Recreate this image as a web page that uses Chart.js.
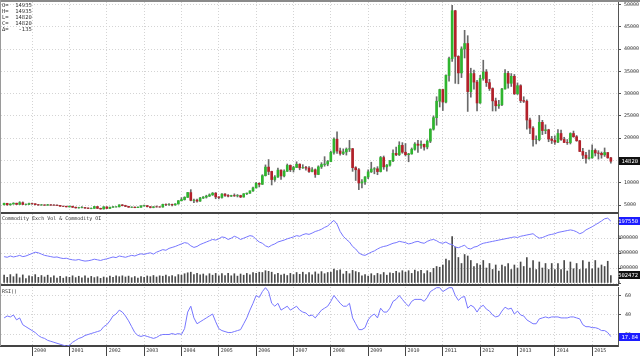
<!DOCTYPE html>
<html>
<head>
<meta charset="utf-8">
<script src="https://cdn.jsdelivr.net/npm/chart.js@4.4.1/dist/chart.umd.min.js"></script>
<style>
html, body { margin: 0; padding: 0; background: #fff; }
#wrap { position: relative; width: 640px; height: 358px; overflow: hidden; }
canvas { position: absolute; left: 0; }
.txt { position: absolute; font-family: "DejaVu Sans Mono", monospace; color: #333; white-space: pre; }
</style>
</head>
<body>
<div id="wrap">
  <canvas id="priceChart" style="top:0" width="640" height="214"></canvas>
  <canvas id="volChart" style="top:213px" width="640" height="73"></canvas>
  <canvas id="rsiChart" style="top:286px" width="640" height="72"></canvas>
  <div style="position:absolute;left:0;top:0;width:640px;height:2px;background:#8a8a8a"></div>
  <div style="position:absolute;left:0;top:0;width:1px;height:346px;background:#9a9a9a"></div>
  <div class="txt" style="left:2px;top:2px;font-size:5.5px;line-height:6px">O=  14935
H=  14935
L=  14820
C=  14820
Δ=   -135</div>
  <div class="txt" style="left:2px;top:215px;font-size:5px;line-height:6px">Commodity Exch Vol &amp; Commodity OI</div>
  <div class="txt" style="left:2px;top:288px;font-size:5px;line-height:6px">RSI()</div>
</div>
<script>
// monthly bars, April 1999 .. July 2015 (month 0 = Jan 1999)
const firstMonth = 3;

const opens = [
  5.05,5.37,5.04,5.23,5.40,5.14,5.52,5.13,5.14,
  5.33,5.28,5.07,5.00,5.03,4.96,5.05,4.98,4.97,4.91,4.73,4.71,
  4.59,4.72,4.50,4.36,4.41,4.43,4.32,4.23,4.25,4.64,4.25,4.12,
  4.58,4.23,4.50,4.57,4.60,5.02,4.87,4.69,4.50,4.53,4.42,4.51,
  4.79,4.84,4.62,4.45,4.59,4.58,4.55,5.13,5.11,5.12,5.01,5.24,
  5.96,6.21,6.72,7.79,6.04,6.09,5.88,6.56,6.78,6.99,7.28,7.66,
  6.82,6.70,7.45,7.14,6.99,7.11,7.05,7.12,6.80,7.52,7.66,8.17,
  8.83,9.86,9.65,11.58,13.51,12.53,10.71,11.28,12.83,11.53,12.58,13.89,
  12.90,13.43,14.15,13.35,13.41,13.29,12.52,12.90,11.86,13.56,14.09,14.19,
  14.76,16.80,19.78,17.12,16.57,16.91,17.53,17.64,13.38,12.91,9.94,10.19,
  11.29,12.44,13.07,13.13,12.50,15.65,13.56,13.95,14.92,16.60,16.28,18.38,
  16.85,16.30,16.47,17.51,18.67,18.40,18.63,18.03,19.33,22.02,24.60,28.30,
  30.91,28.11,34.07,37.87,48.60,38.35,34.64,40.02,41.24,30.45,34.50,32.59,
  27.90,33.40,34.85,32.46,31.14,28.37,27.27,27.52,31.04,34.54,32.32,33.88,
  29.95,31.78,28.44,28.29,24.08,22.26,19.69,19.69,23.56,21.71,21.88,19.81,
  19.49,19.13,21.05,19.70,19.03,19.01,21.05,20.32,19.42,17.02,16.18,15.49,
  15.58,17.25,16.67,16.60,16.26,16.77,15.59
];
const highs = [
  5.45,5.40,5.28,5.50,5.42,5.75,5.70,5.25,5.45,
  5.45,5.30,5.15,5.13,5.06,5.15,5.10,5.07,5.04,4.93,4.78,4.75,
  4.80,4.73,4.55,4.50,4.65,4.48,4.35,4.35,4.70,4.68,4.30,4.65,
  4.60,4.55,4.70,4.65,5.05,5.10,4.95,4.72,4.60,4.56,4.58,4.85,
  4.97,4.90,4.65,4.65,4.80,4.65,5.20,5.25,5.30,5.22,5.30,6.00,
  6.65,6.85,7.85,8.45,6.34,6.32,6.74,6.90,7.20,7.50,7.80,7.80,
  6.86,7.58,7.58,7.35,7.20,7.50,7.35,7.20,7.56,7.70,8.20,9.00,
  10.10,9.98,11.80,14.00,15.20,12.60,11.60,13.30,12.90,12.90,14.20,14.00,
  13.70,14.70,14.25,14.05,13.70,13.60,13.40,13.10,13.80,14.50,15.85,15.00,
  17.10,20.10,21.40,17.80,17.60,17.80,19.50,17.70,13.60,13.20,10.70,11.40,
  12.90,14.60,13.40,13.60,15.90,16.00,14.10,15.00,17.40,18.00,19.20,19.00,
  18.80,16.60,17.80,19.00,19.50,19.40,18.70,19.60,22.10,25.00,29.30,31.00,
  31.00,34.20,38.20,49.80,48.70,38.50,40.50,44.20,43.00,35.70,35.30,33.00,
  34.10,37.50,35.40,33.20,31.30,29.00,28.50,31.20,35.40,35.00,34.50,34.30,
  32.40,32.00,29.30,28.60,24.50,22.60,20.50,25.10,24.00,23.00,22.00,20.40,
  20.50,21.90,21.80,20.20,19.70,21.20,21.60,20.60,19.50,17.70,16.80,17.30,
  18.50,17.60,17.20,16.90,17.80,16.80,15.70
];
const lows = [
  5.02,4.95,4.97,5.18,5.10,5.12,5.08,5.00,5.08,
  5.13,5.01,4.92,4.93,4.90,4.93,4.90,4.88,4.85,4.70,4.62,4.55,
  4.52,4.43,4.30,4.28,4.35,4.22,4.20,4.15,4.24,4.20,4.05,4.08,
  4.20,4.22,4.45,4.52,4.55,4.80,4.62,4.48,4.42,4.38,4.40,4.48,
  4.72,4.55,4.35,4.37,4.50,4.48,4.50,4.85,4.90,4.80,4.95,5.20,
  5.90,6.10,6.68,5.93,5.50,5.66,5.82,6.45,6.55,6.90,7.15,6.40,
  6.38,6.55,6.90,6.80,6.90,6.93,6.80,6.66,6.76,7.34,7.60,8.07,
  8.82,9.05,9.60,11.50,11.80,9.50,10.30,11.20,10.75,11.30,12.50,12.50,
  12.40,13.40,12.90,13.20,12.80,12.30,12.45,11.20,11.80,13.20,13.70,13.80,
  14.70,16.40,16.60,16.20,16.30,16.20,17.00,12.55,10.50,8.45,8.85,9.60,
  10.90,12.30,12.00,11.80,12.40,13.00,12.60,13.70,14.70,16.05,16.10,16.60,
  16.00,14.70,16.40,17.30,16.80,17.70,17.30,17.60,19.00,21.80,22.90,27.00,
  26.20,27.90,32.80,37.20,32.30,32.20,33.60,38.00,26.00,29.20,31.00,26.10,
  27.80,33.00,31.60,30.70,26.10,26.10,26.70,27.30,31.00,31.20,31.60,29.80,
  29.80,28.00,28.00,22.00,21.00,18.20,18.70,19.40,20.80,21.00,19.20,18.80,
  18.60,19.00,19.50,19.00,18.60,18.70,20.20,19.30,17.00,15.40,14.40,15.30,
  15.50,16.00,15.30,15.50,15.90,15.50,14.40
];
const closes = [
  5.37,5.04,5.23,5.40,5.14,5.52,5.13,5.14,5.33,
  5.28,5.07,5.00,5.03,4.96,5.05,4.98,4.97,4.91,4.73,4.71,4.59,
  4.72,4.50,4.36,4.41,4.43,4.32,4.23,4.25,4.64,4.25,4.12,4.58,
  4.23,4.50,4.57,4.60,5.02,4.87,4.69,4.50,4.53,4.42,4.51,4.79,
  4.84,4.62,4.45,4.59,4.58,4.55,5.13,5.11,5.12,5.01,5.24,5.96,
  6.21,6.72,7.79,6.04,6.09,5.88,6.56,6.78,6.99,7.28,7.66,6.82,
  6.70,7.45,7.14,6.99,7.11,7.05,7.12,6.80,7.52,7.66,8.17,8.83,
  9.86,9.65,11.58,13.51,12.53,10.71,11.28,12.83,11.53,12.58,13.89,12.90,
  13.43,14.15,13.35,13.41,13.29,12.52,12.90,11.86,13.56,14.09,14.19,14.76,
  16.80,19.78,17.12,16.57,16.91,17.53,17.64,13.38,12.91,9.94,10.19,11.29,
  12.44,13.07,13.13,12.50,15.65,13.56,13.95,14.92,16.60,16.28,18.38,16.85,
  16.30,16.47,17.51,18.67,18.40,18.63,18.03,19.33,22.02,24.60,28.30,30.91,
  28.11,34.07,37.87,48.60,38.35,34.64,40.02,41.24,30.45,34.50,32.59,27.90,
  33.40,34.85,32.46,31.14,28.37,27.27,27.52,31.04,34.54,32.32,33.88,29.95,
  31.78,28.44,28.29,24.08,22.26,19.69,19.69,23.56,21.71,21.88,19.81,19.49,
  19.13,21.05,19.70,19.03,19.01,21.05,20.32,19.42,17.02,16.18,15.49,15.58,
  17.25,16.67,16.60,16.26,16.77,15.59,14.82
];
const volumes = [
  520e3,380e3,560e3,420e3,600e3,350e3,540e3,300e3,480e3,
  420e3,560e3,380e3,500e3,400e3,520e3,360e3,480e3,330e3,450e3,320e3,420e3,
  380e3,480e3,360e3,450e3,340e3,470e3,320e3,440e3,360e3,420e3,310e3,400e3,
  350e3,460e3,380e3,470e3,420e3,480e3,400e3,460e3,350e3,430e3,330e3,420e3,
  380e3,470e3,420e3,500e3,400e3,480e3,450e3,520e3,430e3,500e3,420e3,560e3,
  520e3,620e3,680e3,720e3,560e3,640e3,540e3,600e3,480e3,620e3,520e3,640e3,
  480e3,620e3,500e3,640e3,480e3,620e3,460e3,600e3,520e3,640e3,540e3,700e3,
  640e3,720e3,700e3,820e3,780e3,720e3,560e3,640e3,520e3,600e3,500e3,640e3,
  560e3,700e3,580e3,720e3,560e3,700e3,540e3,740e3,600e3,760e3,620e3,700e3,
  720e3,920e3,820e3,880e3,600e3,780e3,620e3,840e3,760e3,700e3,480e3,560e3,
  460e3,620e3,500e3,640e3,560e3,700e3,520e3,680e3,640e3,780e3,680e3,820e3,
  720e3,820e3,640e3,860e3,760e3,840e3,620e3,820e3,700e3,980e3,1100e3,1050e3,
  1200e3,1600e3,1500e3,3100e3,2400e3,1700e3,1300e3,1900e3,1800e3,1500e3,1100e3,1300e3,
  1200e3,1500e3,1000e3,1300e3,900e3,1200e3,800e3,1200e3,1100e3,1300e3,900e3,1200e3,
  1000e3,1400e3,1100e3,1700e3,1000e3,1500e3,900e3,1400e3,1000e3,1300e3,900e3,1300e3,
  900e3,1300e3,900e3,1500e3,800e3,1400e3,950e3,1300e3,900e3,1500e3,950e3,1400e3,
  950e3,1500e3,1000e3,1200e3,1100e3,1450e3,502472
];
const openInterest = [
  86e3,84e3,88e3,85e3,87e3,90e3,86e3,88e3,92e3,
  96e3,100e3,98e3,94e3,90e3,88e3,86e3,84e3,85e3,82e3,80e3,81e3,
  78e3,76e3,75e3,77e3,74e3,72e3,73e3,75e3,78e3,76e3,74e3,77e3,
  79e3,82e3,85e3,83e3,88e3,86e3,84e3,87e3,90e3,88e3,92e3,95e3,
  93e3,96e3,98e3,94e3,100e3,104e3,108e3,106e3,112e3,115e3,118e3,122e3,
  126e3,130e3,128e3,120e3,115e3,118e3,124e3,128e3,132e3,136e3,140e3,138e3,
  142e3,148e3,146e3,140e3,144e3,150e3,146e3,140e3,144e3,148e3,152e3,150e3,
  140e3,132e3,128e3,120e3,116e3,122e3,126e3,132e3,135e3,138e3,142e3,145e3,
  148e3,152e3,150e3,155e3,158e3,156e3,160e3,165e3,168e3,172e3,178e3,182e3,
  192e3,200e3,188e3,165e3,150e3,140e3,132e3,118e3,110e3,98e3,92e3,90e3,
  95e3,100e3,104e3,110e3,115e3,118e3,120e3,124e3,128e3,130e3,134e3,132e3,
  130e3,126e3,128e3,132e3,134e3,130e3,128e3,134e3,138e3,140e3,136e3,130e3,
  128e3,132e3,126e3,124e3,116e3,114e3,118e3,122e3,112e3,110e3,116e3,118e3,
  124e3,128e3,130e3,132e3,134e3,136e3,138e3,140e3,142e3,144e3,146e3,148e3,
  146e3,150e3,152e3,154e3,156e3,158e3,150e3,144e3,146e3,150e3,154e3,156e3,
  158e3,162e3,164e3,166e3,168e3,170e3,168e3,164e3,158e3,162e3,170e3,175e3,
  180e3,186e3,192e3,198e3,205e3,207e3,197550
];
const rsi = [
  37,39,38,40,35,37,30,28,26,
  24,22,19,17,16,14,13,12,11,10,9,8,
  9,12,14,16,17,19,20,21,22,23,24,28,
  30,34,39,41,45,43,39,34,28,22,19,18,
  19,18,17,16,17,19,20,20,20,21,20,21,
  20,26,43,49,37,31,33,35,37,39,41,33,
  26,24,23,22,22,23,24,25,31,37,45,52,
  60,58,64,68,64,52,49,52,45,47,49,45,
  47,49,45,43,42,39,40,37,41,45,47,49,
  54,60,56,52,49,49,52,37,31,25,25,27,
  35,39,41,37,47,43,43,47,54,56,60,56,
  52,49,54,56,56,56,54,58,64,66,68,68,
  64,66,68,68,60,55,58,59,47,50,48,43,
  48,50,46,44,40,38,39,44,48,46,47,41,
  44,40,39,35,33,31,31,36,37,38,37,38,
  38,38,37,37,37,38,38,37,36,30,28,28,
  27,27,26,24,24,22,17.84
];

const yearTicks = [12,24,36,48,60,72,84,96,108,120,132,144,156,168,180,192];
const yearLabels = ['2000','2001','2002','2003','2004','2005','2006','2007','2008','2009','2010','2011','2012','2013','2014','2015'];
const priceTicks = [5,10,15,20,25,30,35,40,45,50];
const volumeTicks = [0,1000000,2000000,3000000,4000000];
const rsiTicks = [20,40,60];

const UP = '#2fb52f';
const DOWN = '#b3202a';
const WICK = '#6a6a6a';
const LINE_BLUE = '#7676ff';
const FONT = {family: 'DejaVu Sans Mono', size: 5};

const xs = closes.map((c, i) => firstMonth + i);

// draws the black / blue last-value boxes on the right axis
const lastBoxes = {
  id: 'lastBoxes',
  afterDraw(chart, args, opts) {
    const ctx = chart.ctx;
    (opts.items || []).forEach(b => {
      const y = chart.scales[b.axis].getPixelForValue(b.value);
      ctx.save();
      ctx.fillStyle = b.bg;
      ctx.fillRect(chart.chartArea.right + 1, Math.round(y) - 4, chart.width - chart.chartArea.right - 1, 8);
      ctx.fillStyle = '#fff';
      ctx.font = '5.5px "DejaVu Sans Mono"';
      ctx.textBaseline = 'middle';
      ctx.textAlign = 'right';
      ctx.fillText(b.text, chart.width - 2, Math.round(y) + 0.5);
      ctx.restore();
    });
  }
};

function xAxis(bottom) {
  return {
    type: 'linear', min: 2, max: 200.3, offset: false,
    afterBuildTicks: s => { s.ticks = yearTicks.map(v => ({value: v})); },
    afterFit: s => { s.height = bottom ? 12 : 0; s.paddingLeft = 0; s.paddingRight = 0; },
    ticks: {
      display: bottom, autoSkip: false, maxRotation: 0, align: 'start',
      labelOffset: 2, padding: -8, font: FONT, color: '#333',
      callback: (v, i) => yearLabels[i]
    },
    grid: {color: '#d4d4d4', offset: false, drawTicks: bottom, tickLength: 10, tickColor: '#444'},
    border: {color: '#444', width: 2, dash: [1, 2]}
  };
}

function rightAxis(min, max, ticks, label, pad) {
  return {
    position: 'right', min, max,
    afterBuildTicks: s => { s.ticks = ticks.map(v => ({value: v})); },
    afterFit: s => { s.width = 22; s.paddingTop = 0; s.paddingBottom = 0; },
    ticks: {font: FONT, color: '#333', padding: pad, autoSkip: false, callback: label},
    grid: {color: '#d4d4d4', tickColor: '#555', tickLength: 3},
    border: {color: '#555', width: 1, dash: [1, 2]}
  };
}

// Price Chart
const priceChart = new Chart(document.getElementById('priceChart'), {
  type: 'bar',
  data: {
    datasets: [{
      data: closes.map((c, i) => ({x: xs[i], y: [lows[i], highs[i]]})),
      backgroundColor: WICK,
      barThickness: 1,
      grouped: false,
      order: 2
    }, {
      data: closes.map((c, i) => ({x: xs[i], y: [opens[i], c]})),
      backgroundColor: closes.map((c, i) => c >= opens[i] ? UP : DOWN),
      barThickness: 2,
      grouped: false,
      order: 1
    }]
  },
  options: {
    responsive: false, animation: false,
    layout: {padding: {top: 2, left: 1, right: 0, bottom: 1}},
    plugins: {
      legend: {display: false}, tooltip: {enabled: false},
      lastBoxes: {items: [{axis: 'y', value: closes[closes.length - 1], text: '14820', bg: '#111'}]}
    },
    scales: {
      x: xAxis(false),
      y: rightAxis(3.205, 50.56, priceTicks, v => String(Math.round(v * 1000)), 3)
    }
  },
  plugins: [lastBoxes]
});

// Volume + Open Interest
const volChart = new Chart(document.getElementById('volChart'), {
  type: 'bar',
  data: {
    datasets: [{
      type: 'line',
      data: openInterest.map((v, i) => ({x: xs[i], y: v})),
      yAxisID: 'oi',
      borderColor: LINE_BLUE,
      borderWidth: 1,
      pointRadius: 0,
      tension: 0
    }, {
      data: volumes.map((v, i) => ({x: xs[i], y: v})),
      yAxisID: 'y',
      backgroundColor: '#4a4a4a',
      barThickness: 1
    }]
  },
  options: {
    responsive: false, animation: false,
    layout: {padding: {top: 1, left: 1, right: 0, bottom: 1}},
    plugins: {
      legend: {display: false}, tooltip: {enabled: false},
      lastBoxes: {items: [
        {axis: 'oi', value: openInterest[openInterest.length - 1], text: '197550', bg: '#1c1cff'},
        {axis: 'y', value: volumes[volumes.length - 1], text: '502472', bg: '#111'}
      ]}
    },
    scales: {
      x: xAxis(false),
      y: rightAxis(-133333, 4600000, volumeTicks, v => String(v), -4),
      oi: {display: false, min: -3143, max: 220000}
    }
  },
  plugins: [lastBoxes]
});

// RSI
const rsiChart = new Chart(document.getElementById('rsiChart'), {
  type: 'line',
  data: {
    datasets: [{
      data: rsi.map((v, i) => ({x: xs[i], y: v})),
      borderColor: LINE_BLUE,
      borderWidth: 1,
      pointRadius: 0,
      tension: 0
    }]
  },
  options: {
    responsive: false, animation: false,
    layout: {padding: {top: 1, left: 1, right: 0, bottom: 0}},
    plugins: {
      legend: {display: false}, tooltip: {enabled: false},
      lastBoxes: {items: [{axis: 'y', value: rsi[rsi.length - 1], text: '17.84', bg: '#1c1cff'}]}
    },
    scales: {
      x: xAxis(true),
      y: rightAxis(8.2, 68.7, rsiTicks, v => String(v), 4)
    }
  },
  plugins: [lastBoxes]
});
</script>
</body>
</html>
